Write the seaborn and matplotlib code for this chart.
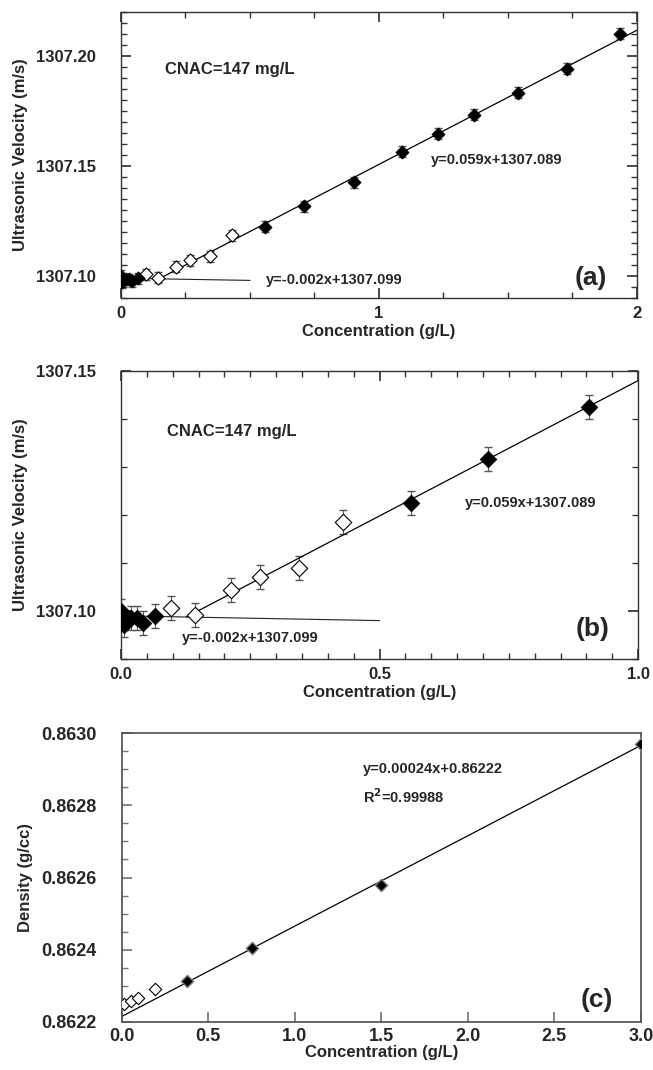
import numpy as np
import seaborn as sns
import matplotlib.pyplot as plt
from matplotlib.ticker import MultipleLocator, FormatStrFormatter

# ultrasonic velocity (same data in (a) and (b))
conc_closed = [0.0, 0.005, 0.02, 0.03, 0.042, 0.066,
               0.56, 0.71, 0.905, 1.09, 1.23, 1.37, 1.54, 1.73, 1.935]
vel_closed = [1307.1000, 1307.0971, 1307.0985, 1307.0985, 1307.0976, 1307.0990,
              1307.1224, 1307.1317, 1307.1425, 1307.1564, 1307.1646, 1307.1732,
              1307.1834, 1307.1943, 1307.2102]
conc_open = [0.097, 0.144, 0.212, 0.269, 0.344, 0.43]
vel_open = [1307.1007, 1307.0991, 1307.1043, 1307.1071, 1307.1089, 1307.1185]
vel_err = 0.0025

# flat part (text on the chart)
flat_slope, flat_icpt = -0.002, 1307.099

# density, panel (c)
dens_conc_open = [0.013, 0.052, 0.096, 0.193]
dens_open = [0.86225, 0.862258, 0.862266, 0.862291]
dens_conc_closed = [0.375, 0.75, 1.5, 3.0]
dens_closed = [0.862314, 0.862404, 0.86258, 0.86297]

sns.set_theme(style="ticks")
plt.rcParams['font.family'] = ['Liberation Sans', 'DejaVu Sans']
plt.rcParams['font.weight'] = 'bold'
plt.rcParams['axes.labelweight'] = 'bold'

xs = np.array(conc_closed + conc_open)
ys = np.array(vel_closed + vel_open)


def rise_fit(xmax):
    sel = (xs >= 0.14) & (xs <= xmax)
    m, b = np.polyfit(xs[sel], ys[sel], 1)
    x0 = (flat_icpt - b) / (m - flat_slope)
    return m, b, x0


m_dens, b_dens = np.polyfit(dens_conc_closed, dens_closed, 1)

fig = plt.figure(figsize=(6.53, 10.70), dpi=100)
ax_a = fig.add_axes([0.1853, 0.7215, 0.790, 0.2673])
ax_b = fig.add_axes([0.1853, 0.3841, 0.792, 0.2692])
ax_c = fig.add_axes([0.1864, 0.0449, 0.795, 0.2700])

fs = 12


def velocity_panel(ax, xmax, ms):
    m, b, x0 = rise_fit(xmax)
    ax.errorbar(conc_closed + conc_open, vel_closed + vel_open, yerr=vel_err,
                fmt='none', ecolor='#555555', elinewidth=0.8, capsize=3, zorder=2)
    xf = np.linspace(0, 0.5, 20)
    sns.lineplot(x=xf, y=flat_slope * xf + flat_icpt, ax=ax, color='#222222', lw=0.8)
    xr = np.linspace(x0, xmax, 20)
    sns.lineplot(x=xr, y=m * xr + b, ax=ax, color='black', lw=0.9)
    sns.scatterplot(x=conc_open, y=vel_open, ax=ax, marker='D', s=ms,
                    color='white', edgecolor='black', linewidth=0.8, zorder=3)
    sns.scatterplot(x=conc_closed, y=vel_closed, ax=ax, marker='D', s=ms,
                    color='black', edgecolor='black', zorder=4)
    ax.set_xlim(0, xmax)
    ax.set_xlabel('Concentration (g/L)', fontsize=fs, labelpad=2)
    ax.set_ylabel('Ultrasonic Velocity (m/s)', fontsize=fs, labelpad=6)
    ax.tick_params(which='both', direction='in', top=True, right=True,
                   labelsize=fs, color='#333333')
    ax.tick_params(axis='y', pad=18)
    ax.tick_params(axis='x', pad=6)
    ax.tick_params(which='major', length=7)
    ax.tick_params(which='minor', length=4)
    for s in ax.spines.values():
        s.set_color('#333333')
        s.set_linewidth(1.0)


# (a)
velocity_panel(ax_a, 2, 45)
ax_a.set_ylim(1307.09, 1307.22)
ax_a.xaxis.set_major_locator(MultipleLocator(1))
ax_a.xaxis.set_minor_locator(MultipleLocator(0.25))
ax_a.xaxis.set_major_formatter(FormatStrFormatter('%d'))
ax_a.yaxis.set_major_locator(MultipleLocator(0.05))
ax_a.yaxis.set_minor_locator(MultipleLocator(0.005))
ax_a.yaxis.set_major_formatter(FormatStrFormatter('%.2f'))
ax_a.text(0.17, 1307.194, 'CNAC=147 mg/L', fontsize=12, va='center')
ax_a.text(1.2, 1307.1527, 'y=0.059x+1307.089', fontsize=10.5, va='center')
ax_a.text(0.56, 1307.098, 'y=-0.002x+1307.099', fontsize=10.5, va='center')
ax_a.text(1.76, 1307.099, '(a)', fontsize=19, va='center')

# (b)
velocity_panel(ax_b, 1.0, 70)
ax_b.set_ylim(1307.09, 1307.15)
ax_b.xaxis.set_major_locator(MultipleLocator(0.5))
ax_b.xaxis.set_minor_locator(MultipleLocator(0.05))
ax_b.xaxis.set_major_formatter(FormatStrFormatter('%.1f'))
ax_b.yaxis.set_major_locator(MultipleLocator(0.05))
ax_b.yaxis.set_minor_locator(MultipleLocator(0.01))
ax_b.yaxis.set_major_formatter(FormatStrFormatter('%.2f'))
ax_b.text(0.088, 1307.1373, 'CNAC=147 mg/L', fontsize=12, va='center')
ax_b.text(0.665, 1307.1224, 'y=0.059x+1307.089', fontsize=10.5, va='center')
ax_b.text(0.117, 1307.0944, 'y=-0.002x+1307.099', fontsize=10.5, va='center')
ax_b.text(0.88, 1307.0962, '(b)', fontsize=19, va='center')

# (c)
xc = np.linspace(0, 3, 20)
sns.lineplot(x=xc, y=m_dens * xc + b_dens, ax=ax_c, color='black', lw=0.9)
sns.scatterplot(x=dens_conc_open, y=dens_open, ax=ax_c, marker='D', s=40,
                color='white', edgecolor='black', linewidth=0.8, zorder=3)
sns.scatterplot(x=dens_conc_closed, y=dens_closed, ax=ax_c, marker='D', s=40,
                color='black', edgecolor='#888888', linewidth=1.0, zorder=4)
ax_c.set_xlim(0, 3.0)
ax_c.set_ylim(0.8622, 0.8630)
ax_c.xaxis.set_major_locator(MultipleLocator(0.5))
ax_c.xaxis.set_major_formatter(FormatStrFormatter('%.1f'))
ax_c.yaxis.set_major_locator(MultipleLocator(0.0002))
ax_c.yaxis.set_minor_locator(MultipleLocator(0.00005))
ax_c.yaxis.set_major_formatter(FormatStrFormatter('%.4f'))
ax_c.tick_params(which='both', direction='in', labelsize=13, color='#777777')
ax_c.tick_params(axis='y', pad=18)
ax_c.tick_params(axis='x', pad=4)
ax_c.tick_params(which='major', length=7)
ax_c.tick_params(which='minor', length=4)
for s in ax_c.spines.values():
    s.set_color('#555555')
ax_c.set_xlabel('Concentration (g/L)', fontsize=fs, labelpad=0)
ax_c.set_ylabel('Density (g/cc)', fontsize=fs, labelpad=6)
ax_c.text(1.395, 0.8629, 'y=0.00024x+0.86222', fontsize=10.5, va='center')
ax_c.text(1.395, 0.862825, 'R$^\\mathbf{2}$=0.99988', fontsize=10.5, va='center')
ax_c.text(2.65, 0.86226, '(c)', fontsize=19, va='center')

fig.savefig('out.png', dpi=100)
